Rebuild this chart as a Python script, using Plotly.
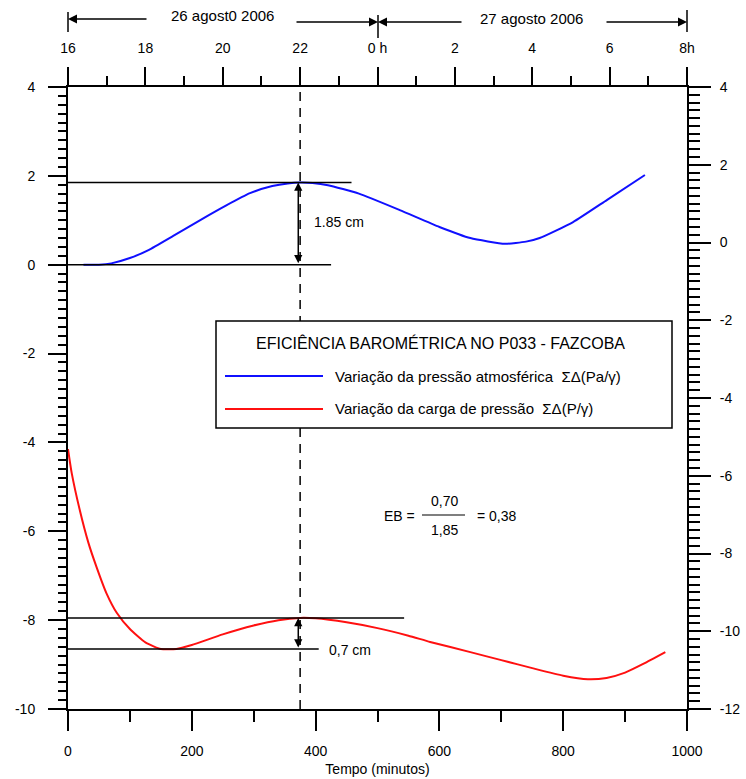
import plotly.graph_objects as go

# Elapsed time (minutes) and accumulated variations (cm)
tempo_atm = [25, 50, 70, 100, 130, 170, 213, 255, 294, 330, 355, 375, 395, 420,
             470, 536, 600, 650, 706, 740, 762, 816, 871, 932]
var_atm = [0.0, 0.0, 0.03, 0.15, 0.33, 0.65, 1.0, 1.33, 1.61, 1.77, 1.83, 1.85, 1.84, 1.79,
           1.6, 1.23, 0.85, 0.6, 0.47, 0.52, 0.6, 0.96, 1.46, 2.02]

tempo_carga = [0, 6, 19, 33, 46, 62, 79, 100, 125, 150, 175, 200, 250, 300, 340, 375,
               400, 450, 500, 550, 585, 650, 700, 750, 800, 840, 870, 900, 930, 965]
var_carga = [-4.15, -4.69, -5.52, -6.26, -6.8, -7.39, -7.84, -8.2, -8.5, -8.65, -8.65, -8.56,
             -8.32, -8.12, -8.0, -7.95, -7.96, -8.05, -8.18, -8.35, -8.49, -8.72, -8.9, -9.08,
             -9.25, -9.33, -9.3, -9.18, -8.98, -8.72]

# Reference levels used for the barometric efficiency
atm_max, atm_min = 1.85, 0.0
carga_max, carga_min = -7.95, -8.65
t_ref = 375  # 22 h

hour_vals = [16, 18, 20, 22, 24, 26, 28, 30, 32]
hour_text = ["16", "18", "20", "22", "0 h", "2", "4", "6", "8h"]
left_vals = [4, 2, 0, -2, -4, -6, -8, -10]
right_vals = [4, 2, 0, -2, -4, -6, -8, -10, -12]

FONT = "Liberation Sans, Arial, sans-serif"

fig = go.Figure()
fig.add_trace(go.Scatter(x=tempo_atm, y=var_atm, mode="lines", showlegend=False,
                         line=dict(color="#1010ff", width=2, shape="spline", smoothing=0.5)))
fig.add_trace(go.Scatter(x=tempo_carga, y=var_carga, mode="lines", showlegend=False,
                         line=dict(color="#ff1010", width=2, shape="spline", smoothing=0.5)))
# hour / secondary scale (no visible marks, keeps the top and right axes active)
fig.add_trace(go.Scatter(x=[16, 32], y=[-12, 4], xaxis="x2", yaxis="y2", mode="markers",
                         marker=dict(opacity=0), showlegend=False, hoverinfo="skip"))

axis_common = dict(showline=True, linecolor="black", linewidth=2, showgrid=False,
                   zeroline=False, ticks="outside", tickcolor="black", tickwidth=2,
                   automargin=False,
                   tickfont=dict(family=FONT, size=14, color="black"))

fig.update_layout(
    width=746, height=779,
    margin=dict(l=68, r=59, t=87, b=70),
    plot_bgcolor="white", paper_bgcolor="white",
    xaxis=dict(range=[0, 1000], dtick=200, ticklen=20,
               minor=dict(dtick=100, ticklen=11, ticks="outside", tickcolor="black", tickwidth=2),
               ticklabelstandoff=8,
               title=dict(text="Tempo (minutos)", standoff=6,
                          font=dict(family=FONT, size=14, color="black")),
               **axis_common),
    xaxis2=dict(range=[16, 32], overlaying="x", side="top", anchor="y2",
                tickvals=hour_vals, ticktext=hour_text, ticklen=18,
                minor=dict(dtick=1, ticklen=9, ticks="outside", tickcolor="black", tickwidth=2),
                ticklabelstandoff=8, **axis_common),
    yaxis=dict(range=[-10, 4], tickvals=left_vals, ticktext=[str(v) for v in left_vals],
               ticklen=18,
               minor=dict(dtick=0.2, ticklen=8, ticks="outside", tickcolor="black", tickwidth=2),
               ticklabelstandoff=10, **axis_common),
    yaxis2=dict(range=[-12, 4], tickvals=right_vals, ticktext=[str(v) for v in right_vals],
                overlaying="y", side="right", anchor="x2", ticklen=22,
                minor=dict(dtick=0.2, ticklen=11, ticks="outside", tickcolor="black", tickwidth=2),
                ticklabelstandoff=6, **axis_common),
)

shapes = []
# dashed marker at 22 h
shapes.append(dict(type="line", xref="x", yref="y", x0=t_ref, x1=t_ref, y0=-10, y1=4,
                   line=dict(color="black", width=1.5, dash="9px,7px")))
# horizontal reference levels
for yv, xe in [(atm_max, 458), (atm_min, 425), (carga_max, 543), (carga_min, 405)]:
    shapes.append(dict(type="line", xref="x", yref="y", x0=0, x1=xe, y0=yv, y1=yv,
                       line=dict(color="black", width=1.5)))

def px(xp):
    return (xp - 68) / 619

def py(yp):
    return (709 - yp) / 622

# legend box
shapes.append(dict(type="rect", xref="paper", yref="paper", x0=px(216), x1=px(672),
                   y0=py(428), y1=py(321), fillcolor="white",
                   line=dict(color="black", width=1.5)))
shapes.append(dict(type="line", xref="paper", yref="paper", x0=px(225), x1=px(323),
                   y0=py(376), y1=py(376), line=dict(color="#1010ff", width=2)))
shapes.append(dict(type="line", xref="paper", yref="paper", x0=px(225), x1=px(323),
                   y0=py(409), y1=py(409), line=dict(color="#ff1010", width=2)))
# fraction bar
shapes.append(dict(type="line", xref="paper", yref="paper", x0=px(422), x1=px(465),
                   y0=py(515), y1=py(515), line=dict(color="black", width=1.2)))
# date markers above the top axis
for xp, y0, y1 in [(68, 12, 32), (378, 15, 38), (687, 10, 32)]:
    shapes.append(dict(type="line", xref="paper", yref="paper", x0=px(xp), x1=px(xp),
                       y0=py(y1), y1=py(y0), line=dict(color="black", width=1.5)))
fig.update_layout(shapes=shapes)

ann = []
def text(x, y, s, size=14, xanchor="center", xref="paper", yref="paper"):
    ann.append(dict(x=x, y=y, xref=xref, yref=yref, text=s, showarrow=False,
                    xanchor=xanchor, yanchor="middle",
                    font=dict(family=FONT, size=size, color="black")))

def arrow(x, y, ax):
    ann.append(dict(x=x, y=y, xref="paper", yref="paper", ax=ax, ay=0, axref="pixel",
                    ayref="pixel", text="", showarrow=True, arrowhead=2, arrowsize=1.2,
                    arrowwidth=1.5, arrowcolor="black"))

# double arrows for the amplitudes
for y_top, y_bot in [(atm_max, atm_min), (carga_max, carga_min)]:
    ann.append(dict(x=t_ref - 3, y=y_top, xref="x", yref="y", ax=t_ref - 3, ay=y_bot,
                    axref="x", ayref="y", text="", showarrow=True, arrowhead=2,
                    arrowside="end+start", arrowsize=1.1, arrowwidth=1.5, arrowcolor="black"))
text(394, 0.96, "1.85 cm", xanchor="left", xref="x", yref="y")
text(418, -8.67, "0,7 cm", xanchor="left", xref="x", yref="y")

# header with dates
text(px(222), py(16), "26 agost0 2006", size=15)
text(px(531), py(18), "27 agosto 2006", size=15)
arrow(px(68), py(19), 80)
arrow(px(378), py(22), -83)
arrow(px(378), py(22), 85)
arrow(px(687), py(22), -82)

# legend contents
text(px(440), py(343), "EFICIÊNCIA BAROMÉTRICA NO P033 - FAZCOBA", size=16)
text(px(333), py(376), "Variação da pressão atmosférica  ΣΔ(Pa/γ)", size=15, xanchor="left")
text(px(333), py(409), "Variação da carga de pressão  ΣΔ(P/γ)", size=15, xanchor="left")

# barometric efficiency
text(px(417), py(516), "EB =", xanchor="right")
text(px(444), py(501), "0,70")
text(px(444), py(530), "1,85")
text(px(475), py(516), "= 0,38", xanchor="left")

fig.update_layout(annotations=ann)
fig.write_html("out.html")
